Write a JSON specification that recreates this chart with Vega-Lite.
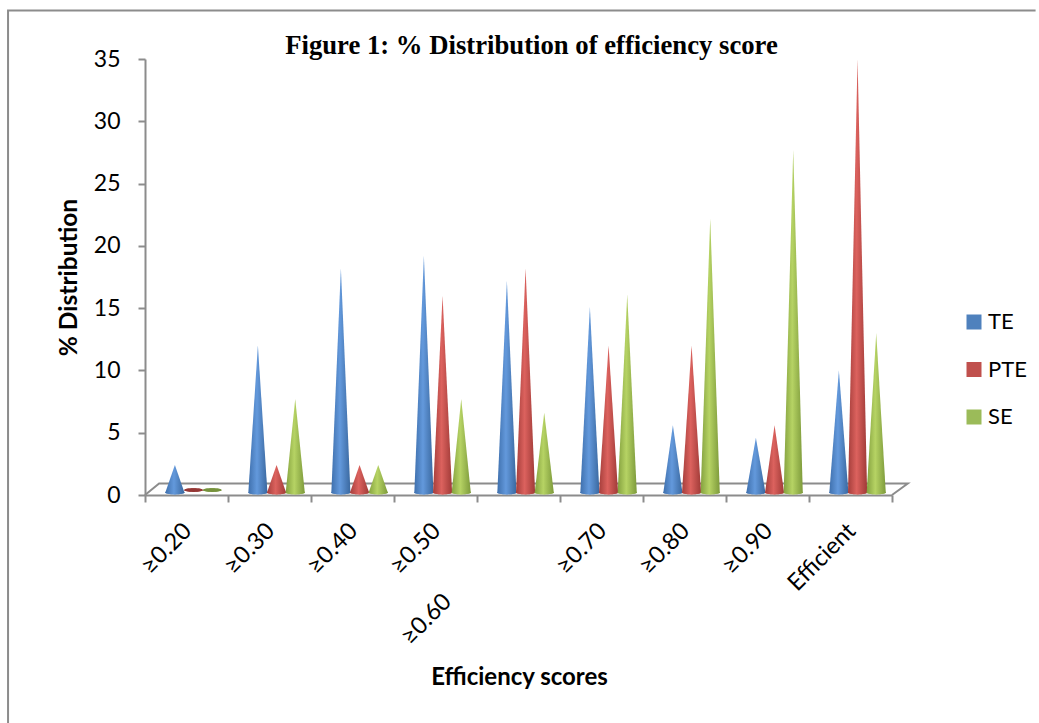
{
"$schema":"https://vega.github.io/schema/vega-lite/v6.json",
"autosize":"none","width":747,"height":436,
"padding":{"left":145,"top":59,"right":147,"bottom":228},
"background":"white",
"title":{"text":"Figure 1: % Distribution of efficiency score","font":"Liberation Serif","fontWeight":"bold","fontSize":26.7,"color":"#000","anchor":"middle","dx":13,"offset":5,"dy":85,"baseline":"bottom"},
"config":{"view":{"stroke":null}},
"datasets":{
"rows":[
{"category":"≥0.20","series":"TE","value":2.4},{"category":"≥0.20","series":"PTE","value":0},{"category":"≥0.20","series":"SE","value":0},
{"category":"≥0.30","series":"TE","value":12},{"category":"≥0.30","series":"PTE","value":2.4},{"category":"≥0.30","series":"SE","value":7.7},
{"category":"≥0.40","series":"TE","value":18.2},{"category":"≥0.40","series":"PTE","value":2.4},{"category":"≥0.40","series":"SE","value":2.4},
{"category":"≥0.50","series":"TE","value":19.2},{"category":"≥0.50","series":"PTE","value":16},{"category":"≥0.50","series":"SE","value":7.7},
{"category":"≥0.60","series":"TE","value":17.2},{"category":"≥0.60","series":"PTE","value":18.2},{"category":"≥0.60","series":"SE","value":6.6},
{"category":"≥0.70","series":"TE","value":15.1},{"category":"≥0.70","series":"PTE","value":12},{"category":"≥0.70","series":"SE","value":16.1},
{"category":"≥0.80","series":"TE","value":5.6},{"category":"≥0.80","series":"PTE","value":12},{"category":"≥0.80","series":"SE","value":22.2},
{"category":"≥0.90","series":"TE","value":4.6},{"category":"≥0.90","series":"PTE","value":5.6},{"category":"≥0.90","series":"SE","value":27.7},
{"category":"Efficient","series":"TE","value":10},{"category":"Efficient","series":"PTE","value":35},{"category":"Efficient","series":"SE","value":13}
],
"decor":[
{"part":"floor","o":1,"fx":0,"fy":0},{"part":"floor","o":2,"fx":0.17,"fy":0.92},{"part":"floor","o":3,"fx":9.19,"fy":0.92},{"part":"floor","o":4,"fx":9,"fy":0},
{"part":"frame","o":1,"fx":-1.65,"fy":-18.4},{"part":"frame","o":2,"fx":-1.65,"fy":38.9},{"part":"frame","o":3,"fx":10.73,"fy":38.9}
]
},
"layer":[
{"data":{"name":"decor"},"mark":{"type":"line","color":"#8c8c8c","strokeWidth":2,"clip":false},
 "encoding":{"x":{"field":"fx","type":"quantitative","scale":{"domain":[0,9],"nice":false,"zero":false},"axis":null},
 "y":{"field":"fy","type":"quantitative","scale":{"domain":[0,35],"nice":false},
  "axis":{"title":"% Distribution","titleFont":"Lato","titleFontSize":24.5,"titleFontWeight":"bold","titleColor":"#000","titleX":-64,"titleY":218,"values":[0,5,10,15,20,25,30,35],
   "labelFont":"Lato","labelFontSize":23,"labelColor":"#000","labelPadding":18,"tickSize":7,"tickColor":"#8c8c8c","tickWidth":2,"domainColor":"#8c8c8c","domainWidth":2,"grid":false}},
 "detail":{"field":"part"},"order":{"field":"o"}}},
{"data":{"name":"rows"},
 "layer":[
 {"mark":{"type":"point","filled":true,"size":1,"opacity":0},
 "encoding":{
 "x":{"field":"category","type":"nominal","sort":null,"scale":{"paddingInner":0,"paddingOuter":0},
  "axis":{"title":"Efficiency scores","titleFont":"Lato","titleFontSize":24,"titleFontWeight":"bold","titleColor":"#000","titleX":374,"titleY":182,"titleBaseline":"middle",
   "labelFont":"Lato","labelFontSize":23.5,"labelColor":"#000","labelAngle":-45,"labelAlign":"right","labelBaseline":"middle","labelPadding":25,"labelOffset":1,
   "labelExpr":"datum.value=='≥0.60' ? '' : datum.label",
   "tickBand":"extent","tickSize":7,"tickColor":"#8c8c8c","tickWidth":2,"domainColor":"#8c8c8c","domainWidth":2,"labelOverlap":false}},
 "y":{"field":"value","type":"quantitative","scale":{"domain":[0,35],"nice":false}},
 "color":{"field":"series","type":"nominal","scale":{"domain":["TE","PTE","SE"],"range":["#4f81bd","#c0504d","#9bbb59"]},
  "legend":{"title":null,"orient":"none","legendX":818,"legendY":252,"symbolType":"square","symbolSize":225,"symbolStrokeWidth":0,"symbolOpacity":1,"labelFont":"Lato","labelFontSize":22,"labelColor":"#000","labelOffset":3,"rowPadding":25.5}}}},
 {"transform":[{"filter":"datum.category=='≥0.60' && datum.series=='TE'"}],
  "mark":{"type":"text","font":"Lato","fontSize":23.5,"color":"#000","angle":-45,"align":"right","baseline":"middle","dx":-100},
  "encoding":{"x":{"field":"category","type":"nominal","sort":null},"y":{"datum":-2.6,"type":"quantitative","scale":{"domain":[0,35],"nice":false}},"text":{"field":"category"}}}
 ]},
{"data":{"name":"rows"},
 "transform":[
  {"calculate":"0.2","as":"floorLevel"},
  {"fold":["floorLevel","value"],"as":["vertex","h"]},
  {"calculate":"indexof(['≥0.20','≥0.30','≥0.40','≥0.50','≥0.60','≥0.70','≥0.80','≥0.90','Efficient'],datum.category)+0.36+0.225*indexof(['TE','PTE','SE'],datum.series)","as":"cx"},
  {"calculate":"datum.vertex=='value'?0:0.115","as":"halfWidth"},
  {"calculate":"datum.cx-datum.halfWidth","as":"xL"},
  {"calculate":"datum.cx+datum.halfWidth","as":"xR"}
 ],
 "layer":[
 {"transform":[{"filter":"datum.series=='TE' && datum.value>0"}],
  "mark":{"type":"point","shape":"M-1,0A1,.2,0,1,1,1,0A1,.2,0,1,1,-1,0Z","filled":true,"size":365,"opacity":1,"color":{"gradient":"linear","x1":0,"x2":1,"y1":0,"y2":0,"stops":[{"offset":0,"color":"#3f70ad"},{"offset":0.45,"color":"#6399dc"},{"offset":1,"color":"#3a689f"}]}},
  "encoding":{"x":{"field":"cx","type":"quantitative","scale":{"domain":[0,9],"nice":false,"zero":false},"axis":null},"y":{"datum":0.2,"type":"quantitative","scale":{"domain":[0,35],"nice":false}}}},
 {"transform":[{"filter":"datum.series=='TE' && datum.value>0"}],
  "mark":{"type":"area","orient":"horizontal","color":{"gradient":"linear","x1":0,"x2":1,"y1":0,"y2":0,"stops":[{"offset":0,"color":"#3f70ad"},{"offset":0.45,"color":"#6399dc"},{"offset":1,"color":"#3a689f"}]}},
  "encoding":{"x":{"field":"xL","type":"quantitative","stack":null,"scale":{"domain":[0,9],"nice":false,"zero":false},"axis":null},"x2":{"field":"xR"},"y":{"field":"h","type":"quantitative","scale":{"domain":[0,35],"nice":false}},"detail":{"field":"category"}}},
 {"transform":[{"filter":"datum.series=='PTE' && datum.value>0"}],
  "mark":{"type":"point","shape":"M-1,0A1,.2,0,1,1,1,0A1,.2,0,1,1,-1,0Z","filled":true,"size":365,"opacity":1,"color":{"gradient":"linear","x1":0,"x2":1,"y1":0,"y2":0,"stops":[{"offset":0,"color":"#a53e3b"},{"offset":0.45,"color":"#dc625e"},{"offset":1,"color":"#9f3a37"}]}},
  "encoding":{"x":{"field":"cx","type":"quantitative","scale":{"domain":[0,9],"nice":false,"zero":false},"axis":null},"y":{"datum":0.2,"type":"quantitative","scale":{"domain":[0,35],"nice":false}}}},
 {"transform":[{"filter":"datum.series=='PTE' && datum.value>0"}],
  "mark":{"type":"area","orient":"horizontal","color":{"gradient":"linear","x1":0,"x2":1,"y1":0,"y2":0,"stops":[{"offset":0,"color":"#a53e3b"},{"offset":0.45,"color":"#dc625e"},{"offset":1,"color":"#9f3a37"}]}},
  "encoding":{"x":{"field":"xL","type":"quantitative","stack":null,"scale":{"domain":[0,9],"nice":false,"zero":false},"axis":null},"x2":{"field":"xR"},"y":{"field":"h","type":"quantitative","scale":{"domain":[0,35],"nice":false}},"detail":{"field":"category"}}},
 {"transform":[{"filter":"datum.series=='SE' && datum.value>0"}],
  "mark":{"type":"point","shape":"M-1,0A1,.2,0,1,1,1,0A1,.2,0,1,1,-1,0Z","filled":true,"size":365,"opacity":1,"color":{"gradient":"linear","x1":0,"x2":1,"y1":0,"y2":0,"stops":[{"offset":0,"color":"#84a13f"},{"offset":0.45,"color":"#b6d364"},{"offset":1,"color":"#7d9a3b"}]}},
  "encoding":{"x":{"field":"cx","type":"quantitative","scale":{"domain":[0,9],"nice":false,"zero":false},"axis":null},"y":{"datum":0.2,"type":"quantitative","scale":{"domain":[0,35],"nice":false}}}},
 {"transform":[{"filter":"datum.series=='SE' && datum.value>0"}],
  "mark":{"type":"area","orient":"horizontal","color":{"gradient":"linear","x1":0,"x2":1,"y1":0,"y2":0,"stops":[{"offset":0,"color":"#84a13f"},{"offset":0.45,"color":"#b6d364"},{"offset":1,"color":"#7d9a3b"}]}},
  "encoding":{"x":{"field":"xL","type":"quantitative","stack":null,"scale":{"domain":[0,9],"nice":false,"zero":false},"axis":null},"x2":{"field":"xR"},"y":{"field":"h","type":"quantitative","scale":{"domain":[0,35],"nice":false}},"detail":{"field":"category"}}},
 {"transform":[{"filter":"datum.value==0"}],
  "mark":{"type":"point","shape":"M-1,0A1,.2,0,1,1,1,0A1,.2,0,1,1,-1,0Z","filled":true,"size":350,"opacity":1},
  "encoding":{"x":{"field":"cx","type":"quantitative","scale":{"domain":[0,9],"nice":false,"zero":false},"axis":null},"y":{"datum":0.4,"type":"quantitative","scale":{"domain":[0,35],"nice":false}},
  "fill":{"condition":{"test":"datum.series=='PTE'","value":"#953735"},"value":"#76923c"}}}
 ]}
],
"resolve":{"scale":{"x":"independent"}}
}
